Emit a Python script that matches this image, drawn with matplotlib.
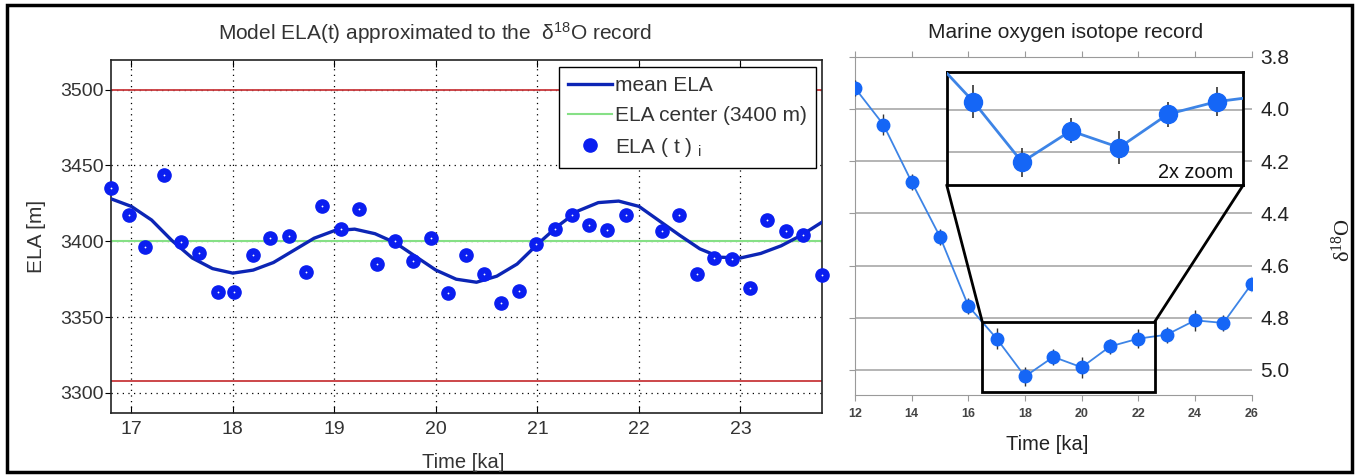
import matplotlib
matplotlib.use("Agg")
import matplotlib.pyplot as plt
from matplotlib.patches import Rectangle, ConnectionPatch

plt.rcParams['font.family'] = ['Liberation Sans', 'DejaVu Sans']
plt.rcParams['mathtext.default'] = 'regular'

# --- left panel: model ELA ---
curve_t = [16.8, 17.0, 17.2, 17.4, 17.6, 17.8, 18.0, 18.2, 18.4, 18.6, 18.8, 19.0,
           19.2, 19.4, 19.6, 19.8, 20.0, 20.2, 20.4, 20.6, 20.8, 21.0, 21.2, 21.4,
           21.6, 21.8, 22.0, 22.2, 22.4, 22.6, 22.8, 23.0, 23.2, 23.4, 23.6, 23.8]
curve_ela = [3428, 3423, 3414, 3400.5, 3389, 3382, 3379, 3381, 3386, 3394, 3402, 3407,
             3408, 3405, 3399, 3390, 3381, 3375, 3373, 3377, 3385, 3398, 3410, 3420,
             3425.5, 3426.5, 3423, 3413.5, 3404, 3395, 3389.5, 3389, 3392, 3397, 3404, 3412.5]

pts_t = [16.80, 16.98, 17.13, 17.32, 17.49, 17.67, 17.85, 18.01, 18.20, 18.37,
         18.55, 18.72, 18.88, 19.07, 19.24, 19.42, 19.60, 19.77, 19.95, 20.12,
         20.30, 20.47, 20.64, 20.82, 20.99, 21.17, 21.34, 21.51, 21.69, 21.87,
         22.23, 22.39, 22.57, 22.74, 22.92, 23.09, 23.26, 23.45, 23.62, 23.80]
pts_ela = [3435, 3417.5, 3396, 3444, 3399.5, 3392.5, 3366.5, 3366.5, 3391, 3402,
           3403.5, 3379.5, 3423, 3408, 3421, 3385, 3400, 3387, 3402, 3366,
           3391, 3378.5, 3359, 3367, 3398.5, 3408, 3417.5, 3411, 3407.5, 3417.5,
           3407, 3417.5, 3378.5, 3389, 3388.5, 3369.5, 3414, 3407, 3404, 3378]

ela_center = 3400
ela_limits = [3500, 3308]

# --- right panel: marine d18O record ---
iso_t = [12, 13, 14, 15, 16, 17, 18, 19, 20, 21, 22, 23, 24, 25, 26]
iso_d18o = [3.92, 4.06, 4.28, 4.49, 4.755, 4.88, 5.025, 4.95, 4.99, 4.91, 4.88, 4.865, 4.81, 4.82, 4.67]
iso_err = [0.03, 0.04, 0.03, 0.03, 0.03, 0.04, 0.035, 0.03, 0.04, 0.03, 0.035, 0.03, 0.04, 0.03, 0.03]

W, H = 1357, 476
fig = plt.figure(figsize=(W / 100, H / 100), dpi=100)

def box(x0, y0, x1, y1):
    return [x0 / W, 1 - y1 / H, (x1 - x0) / W, (y1 - y0) / H]

txt = '#333333'

# left axes
ax = fig.add_axes(box(111, 60, 821.7, 412.7))
l1, = ax.plot(curve_t, curve_ela, color='#0c25b5', lw=2.4, label='mean ELA', zorder=4,
              solid_joinstyle='round')
l2 = ax.axhline(ela_center, color='#86e086', lw=1.5, label='ELA center (3400 m)', zorder=2)
for b in ela_limits:
    ax.axhline(b, color='#c8383c', lw=1.3, zorder=2)
l3, = ax.plot(pts_t, pts_ela, 'o', ms=9.5, color='#0a1ef0', label='ELA ( t ) $_{i}$',
              clip_on=False, zorder=5)
ax.plot(pts_t, pts_ela, 'o', ms=1.3, color='white', mew=0, clip_on=False, zorder=6)

ax.set_xlim(16.8, 23.8)
ax.set_ylim(3287, 3519.5)
ax.set_xticks([17, 18, 19, 20, 21, 22, 23])
ax.set_yticks([3300, 3350, 3400, 3450, 3500])
ax.grid(True, color='black', linestyle=(0, (1, 3.5)), lw=0.9)
ax.tick_params(axis='x', direction='in', top=True, length=5, labelsize=14,
               labelcolor=txt, pad=6)
ax.tick_params(axis='y', direction='out', length=4.5, labelsize=14,
               labelcolor=txt, pad=1)
for s in ax.spines.values():
    s.set_linewidth(1.2)
    s.set_color('#222222')

leg = ax.legend(handles=[l1, l2, l3], loc='upper right', bbox_to_anchor=(0.992, 0.981),
                fancybox=False, edgecolor='black', framealpha=1, fontsize=15,
                borderaxespad=0, handlelength=2.1, handletextpad=0.15,
                labelspacing=0.52, borderpad=0.45)
leg.get_frame().set_linewidth(1.0)
leg.set_zorder(10)
for t in leg.get_texts():
    t.set_color(txt)

fig.text(435 / W, 1 - 33 / H, 'Model ELA(t) approximated to the  δ$^{18}$O record',
         ha='center', va='center', fontsize=15, color=txt)
fig.text(36.7 / W, 1 - 236 / H, 'ELA [m]', rotation=90, ha='center', va='center',
         fontsize=15, color=txt)
fig.text(463 / W, 1 - 462 / H, 'Time [ka]', ha='center', va='center',
         fontsize=14.5, color=txt)

# right axes
ax2 = fig.add_axes(box(855, 56.7, 1251.7, 395))
ax2.errorbar(iso_t, iso_d18o, yerr=iso_err, fmt='-o', color='#3d84e6', lw=1.3,
             mfc='#1566f6', mec='#1566f6', ms=9, ecolor='#333333', elinewidth=1,
             capsize=0, zorder=3)
ax2.set_xlim(12, 26)
ax2.set_ylim(5.096, 3.8)
ax2.set_xticks([12, 14, 16, 18, 20, 22, 24, 26])
ax2.set_yticks([3.8, 4.0, 4.2, 4.4, 4.6, 4.8, 5.0])
ax2.set_yticklabels(['3.8', '4.0', '4.2', '4.4', '4.6', '4.8', '5.0'])
ax2.yaxis.grid(True, color='#a8a8a8', lw=1.2)
ax2.set_axisbelow(True)
ax2.spines['right'].set_visible(False)
for k in ['left', 'bottom', 'top']:
    ax2.spines[k].set_color('#9a9a9a')
ax2.tick_params(axis='y', left=True, right=False, labelleft=False, labelright=True,
                direction='out', length=4, color='#9a9a9a', labelsize=15,
                labelcolor='#222222', pad=2)
ax2.tick_params(axis='x', top=True, bottom=True, direction='out', length=4,
                color='#9a9a9a', labelsize=9, labelcolor='#444444', pad=5.5)
for lab in ax2.get_xticklabels():
    lab.set_fontweight('bold')

ax2.add_patch(Rectangle((16.49, 4.815), 6.09, 0.27, fill=False, lw=2, ec='black',
                        zorder=5, clip_on=False))

fig.text(1066 / W, 1 - 33 / H, 'Marine oxygen isotope record', ha='center',
         va='center', fontsize=15, color='#222222')
fig.text(1047 / W, 1 - 445 / H, 'Time [ka]', ha='center', va='center',
         fontsize=14.5, color='#222222')
fig.text(1343 / W, 1 - 240 / H, 'δ$^{18}$O', rotation=90, ha='center', va='center',
         fontsize=16, family='Liberation Serif', color='#222222')

# inset (2x zoom)
axi = fig.add_axes(box(946.7, 71.7, 1243.3, 185))
axi.errorbar(iso_t, iso_d18o, yerr=iso_err, fmt='-o', color='#3d84e6', lw=2,
             mfc='#1566f6', mec='#1566f6', ms=13, ecolor='#333333', elinewidth=1.2,
             capsize=0, zorder=3)
axi.set_xlim(16.45, 22.55)
axi.set_ylim(5.08, 4.808)
axi.set_xticks([])
axi.set_yticks([4.9, 5.0])
axi.yaxis.grid(True, color='#a8a8a8', lw=1.2)
axi.set_axisbelow(True)
axi.tick_params(left=False, labelleft=False)
for s in axi.spines.values():
    s.set_linewidth(2)
    s.set_color('black')
axi.text(0.965, 0.106, '2x zoom', transform=axi.transAxes, ha='right', va='center',
         fontsize=14.3, color='#111111')

for xa, xb in [(0, 16.49), (1, 22.58)]:
    fig.add_artist(ConnectionPatch(xyA=(xa, 0), coordsA=axi.transAxes,
                                   xyB=(xb, 4.815), coordsB=ax2.transData,
                                   lw=2, color='black'))

# outer frame
fig.add_artist(Rectangle((7 / W, 1 - 472 / H), (1351.5 - 7) / W, (472 - 5) / H,
                         transform=fig.transFigure, fill=False, lw=2.5, ec='black'))

fig.savefig('out.png', dpi=100)
